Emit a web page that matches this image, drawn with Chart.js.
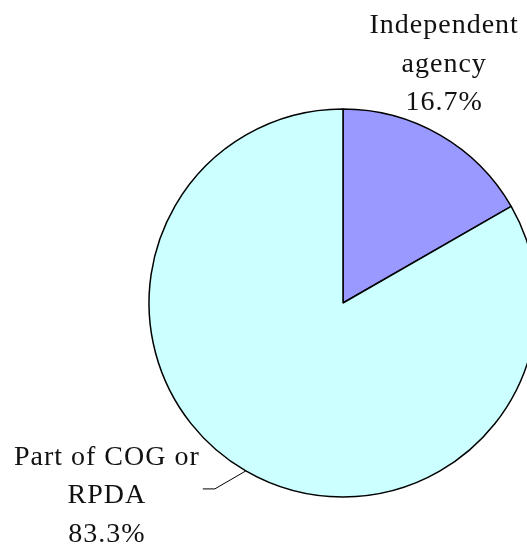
<!DOCTYPE html>
<html>
<head>
<meta charset="utf-8">
<script src="https://cdn.jsdelivr.net/npm/chart.js@4"></script>
<style>
  html, body { margin: 0; padding: 0; background: #fff; overflow: hidden; width: 527px; height: 546px; }
  #wrap { position: absolute; left: 0; top: 0; }
</style>
</head>
<body>
<div id="wrap"><canvas id="pie" width="686" height="606"></canvas></div>
<script>
const categories = ["Independent agency", "Part of COG or RPDA"];
const labelLines = [["Independent", "agency"], ["Part of COG or", "RPDA"]];
const shares = [16.7, 83.3];
const sliceColors = ["#9999FF", "#CCFFFF"];

// draws the outside labels (and the leader line for the big slice)
const outsideLabels = {
  id: "outsideLabels",
  afterDraw(chart) {
    const ctx = chart.ctx;
    const arcs = chart.getDatasetMeta(0).data;
    ctx.save();
    ctx.font = "28px 'Liberation Serif', serif";
    ctx.letterSpacing = "1px";
    ctx.fillStyle = "#111";
    ctx.textAlign = "center";
    ctx.textBaseline = "alphabetic";
    arcs.forEach((arc, i) => {
      const p = arc.getProps(["x", "y", "startAngle", "endAngle", "outerRadius"], true);
      const mid = (p.startAngle + p.endAngle) / 2;
      const ex = p.x + Math.cos(mid) * p.outerRadius;
      const ey = p.y + Math.sin(mid) * p.outerRadius;
      const lines = labelLines[i].concat([shares[i].toFixed(1) + "%"]);
      let cx, base;
      if (i === 0) {
        cx = ex + 4;
        base = ey - 25 - 38.5 * (lines.length - 1);
      } else {
        // leader line
        ctx.strokeStyle = "#000";
        ctx.lineWidth = 1;
        ctx.beginPath();
        ctx.moveTo(ex, ey);
        ctx.lineTo(ex - 31, ey + 18);
        ctx.lineTo(ex - 43, ey + 18);
        ctx.stroke();
        cx = ex - 139;
        base = ey - 6;
      }
      lines.forEach((t, k) => ctx.fillText(t, cx, base + k * 38.5));
    });
    ctx.restore();
  }
};

new Chart(document.getElementById("pie"), {
  type: "pie",
  data: {
    labels: categories,
    datasets: [{
      data: shares,
      backgroundColor: sliceColors,
      borderColor: "#000",
      borderWidth: 1.5,
      borderAlign: "center"
    }]
  },
  options: {
    responsive: false,
    animation: false,
    radius: 194,
    layout: { padding: 0 },
    plugins: {
      legend: { display: false },
      tooltip: { enabled: false }
    }
  },
  plugins: [outsideLabels]
});
</script>
</body>
</html>
